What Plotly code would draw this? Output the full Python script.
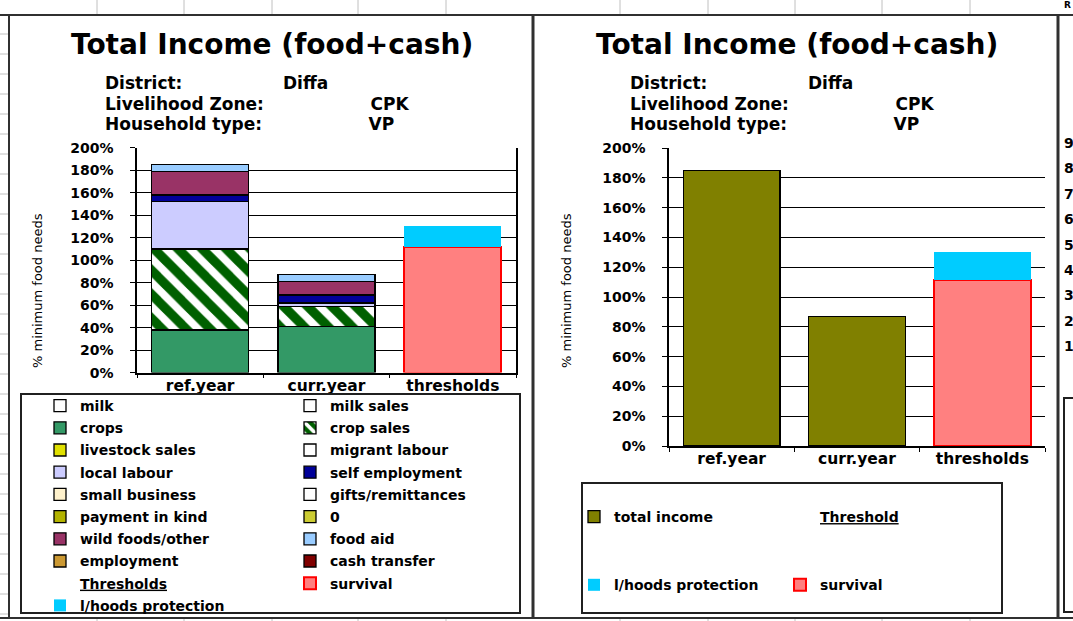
import plotly.graph_objects as go

# ---------------- data ----------------
categories = ["ref.year", "curr.year", "thresholds"]

milk = [0, 0, 0]
milk_sales = [0, 0, 0]
crops = [38, 41, 0]
crop_sales = [72, 18, 0]
livestock_sales = [0, 0, 0]
migrant_labour = [0, 0, 0]
local_labour = [42, 3, 0]
self_employment = [6, 7, 0]
small_business = [0, 0, 0]
gifts_remittances = [0, 0, 0]
payment_in_kind = [0, 0, 0]
zero_series = [0, 0, 0]
wild_foods_other = [21, 12, 0]
food_aid = [6, 6, 0]
employment = [0, 0, 0]
cash_transfer = [0, 0, 0]
survival = [0, 0, 111.5]
lhoods_protection = [0, 0, 19]

total_income = [185, 87, 0]

y_ticks = list(range(0, 201, 20))
y_tick_labels = [f"{v}%" for v in y_ticks]
third_chart_ticks = ["9", "8", "7", "6", "5", "4", "3", "2", "1"]

# ---------------- helpers ----------------
W, H = 1073, 621
def px(x):
    return x / W
def py(y):
    return 1 - y / H
def nz(v):
    return [a if a else None for a in v]

BOLD = "DejaVu Sans"
fig = go.Figure()

# (name, values, color, legend column, pattern)
left_series = [
    ("milk", milk, "#FFFFFF", "legend", None),
    ("milk sales", milk_sales, "#FFFFFF", "legend2", None),
    ("crops", crops, "#339966", "legend", None),
    ("crop sales", crop_sales, "#006000", "legend2", "\\"),
    ("livestock sales", livestock_sales, "#E0E000", "legend", None),
    ("migrant labour", migrant_labour, "#FFFFFF", "legend2", None),
    ("local labour", local_labour, "#CCCCFF", "legend", None),
    ("self employment", self_employment, "#000099", "legend2", None),
    ("small business", small_business, "#FFF2CC", "legend", None),
    ("gifts/remittances", gifts_remittances, "#FFFFFF", "legend2", None),
    ("payment in kind", payment_in_kind, "#B3B300", "legend", None),
    ("0", zero_series, "#CCCC33", "legend2", None),
    ("wild foods/other", wild_foods_other, "#993366", "legend", None),
    ("food aid", food_aid, "#99CCFF", "legend2", None),
    ("employment", employment, "#CC9933", "legend", None),
    ("cash transfer", cash_transfer, "#800000", "legend2", None),
]

for name, vals, col, leg, pat in left_series:
    marker = dict(color=col, line=dict(color="black", width=1.3))
    if pat:
        marker["pattern"] = dict(shape=pat, fillmode="overlay", fgcolor="#FFFFFF",
                                 fgopacity=1, size=17, solidity=0.45)
    fig.add_trace(go.Bar(x=categories, y=nz(vals), name=name, marker=marker,
                         legend=leg, legendgroup="L_" + name,
                         xaxis="x", yaxis="y"))

# header "Thresholds" in legend
fig.add_trace(go.Scatter(x=[None], y=[None], mode="markers", name="<u>Thresholds</u>",
                         marker=dict(color="rgba(0,0,0,0)", size=1),
                         legend="legend", legendgroup="L_hdr", xaxis="x", yaxis="y",
                         hoverinfo="skip"))
fig.add_trace(go.Bar(x=categories, y=nz(survival), name="survival",
                     marker=dict(color="#FF8080", line=dict(color="#FF0000", width=2)),
                     legend="legend2", legendgroup="L_surv", xaxis="x", yaxis="y"))
fig.add_trace(go.Bar(x=categories, y=nz(lhoods_protection), name="l/hoods protection",
                     marker=dict(color="#00CCFF", line=dict(width=0)),
                     legend="legend", legendgroup="L_lp", xaxis="x", yaxis="y"))

# right chart
fig.add_trace(go.Bar(x=categories, y=nz(total_income), name="total income",
                     marker=dict(color="#808000", line=dict(color="black", width=1.3)),
                     legend="legend3", legendgroup="R_tot", xaxis="x2", yaxis="y2"))
fig.add_trace(go.Scatter(x=[None], y=[None], mode="markers", name="<u>Threshold</u>",
                         marker=dict(color="rgba(0,0,0,0)", size=1),
                         legend="legend4", legendgroup="R_hdr", xaxis="x2", yaxis="y2",
                         hoverinfo="skip"))
fig.add_trace(go.Bar(x=categories, y=nz(survival), name="survival",
                     marker=dict(color="#FF8080", line=dict(color="#FF0000", width=2)),
                     legend="legend4", legendgroup="R_surv", xaxis="x2", yaxis="y2"))
fig.add_trace(go.Bar(x=categories, y=nz(lhoods_protection), name="l/hoods protection",
                     marker=dict(color="#00CCFF", line=dict(width=0)),
                     legend="legend3", legendgroup="R_lp", xaxis="x2", yaxis="y2"))

# ---------------- axes ----------------
tickfont = dict(family=BOLD, size=14, color="black", weight="bold")
catfont = dict(family=BOLD, size=15.5, color="black", weight="bold")

def xaxis_cfg(dom, anchor):
    return dict(domain=dom, anchor=anchor, type="category", categoryorder="array",
                categoryarray=categories, showline=True, linecolor="black", linewidth=1.5,
                ticks="outside", tickson="boundaries", ticklen=4, tickcolor="black",
                tickfont=catfont, ticklabelstandoff=-2,
                showgrid=False, fixedrange=True, automargin=False)

def yaxis_cfg(dom, anchor, mirror):
    return dict(domain=dom, anchor=anchor, range=[0, 200], tickmode="array",
                tickvals=y_ticks, ticktext=y_tick_labels,
                showgrid=True, gridcolor="black", gridwidth=1,
                showline=True, linecolor="black", linewidth=1.5, mirror=mirror,
                ticks="outside", ticklen=5, tickcolor="black", tickfont=tickfont,
                ticklabelstandoff=14, zeroline=False, fixedrange=True, automargin=False)

legfont = dict(family=BOLD, size=14, color="black", weight="bold")
def leg(xp, yp, gap):
    return dict(x=px(xp), y=py(yp), xanchor="left", yanchor="top",
                traceorder="grouped", tracegroupgap=gap, font=legfont,
                bgcolor="rgba(0,0,0,0)", borderwidth=0, itemclick=False,
                itemdoubleclick=False)

fig.update_layout(
    width=W, height=H,
    margin=dict(l=0, r=0, t=0, b=0, pad=0, autoexpand=False),
    paper_bgcolor="white", plot_bgcolor="white",
    barmode="stack", bargap=0.23,
    xaxis=xaxis_cfg([px(137), px(516)], "y"),
    yaxis=yaxis_cfg([py(372.6), py(147.6)], "x", True),
    xaxis2=xaxis_cfg([px(669), px(1045)], "y2"),
    yaxis2=yaxis_cfg([py(446), py(148)], "x2", False),
    legend=leg(40, 390, 1),
    legend2=leg(290, 390, 1),
    legend3=leg(574, 501, 47),
    legend4=leg(780, 501, 47),
    showlegend=True,
)

# ---------------- text ----------------
ann = []
def text(x, y, s, size, xanchor="left", bold=True, angle=0, family=BOLD, yanchor="middle"):
    ann.append(dict(x=px(x), y=py(y), xref="paper", yref="paper", text=s,
                    showarrow=False, xanchor=xanchor, yanchor=yanchor, textangle=angle,
                    align="left",
                    font=dict(family=family, size=size, color="black",
                              weight="bold" if bold else "normal")))

NB = "&nbsp;"
info_lines = [
    ("District:", 17, "Diffa"),
    ("Livelihood Zone:", 18, "CPK"),
    ("Household type:", 18, "VP"),
]
info_text = "<span style='font-size:17px'>" + "<br>".join(
    lab + NB * n + val for lab, n, val in info_lines) + "</span>"

for off in (0, 525):
    text(272 + off, 45, "Total Income (food+cash)", 28, xanchor="center")
    text(103 + off, 104, info_text, 15.9)

text(37, 291, "% minimum food needs", 13, xanchor="center", bold=False, angle=-90)
text(566, 291, "% minimum food needs", 13, xanchor="center", bold=False, angle=-90)

for i, t in enumerate(third_chart_ticks):
    text(1062, 143 + 25.4 * i, t, 14)
text(1062, 5, "R", 9)

fig.update_layout(annotations=ann)

# ---------------- frames / sheet lines ----------------
shapes = []
def line(x0, y0, x1, y1, color="#303030", width=2):
    shapes.append(dict(type="line", xref="paper", yref="paper",
                       x0=px(x0), y0=py(y0), x1=px(x1), y1=py(y1),
                       line=dict(color=color, width=width)))

for cx in [97, 184, 272, 358, 446, 620, 708, 795, 882, 970]:
    line(cx, 0, cx, 14, color="#C0C0C0", width=1)
    line(cx, 619, cx, 621, color="#C0C0C0", width=1)
for ry in range(34, 621, 20):
    line(0, ry, 8, ry, color="#C0C0C0", width=1)

line(0, 15, 1073, 15, width=2)
line(0, 618, 1073, 618, width=2)
line(9, 15, 9, 618, width=2)
line(533, 15, 533, 618, width=3)
line(1058, 15, 1058, 618, width=3)

shapes.append(dict(type="rect", xref="paper", yref="paper",
                   x0=px(21), y0=py(613), x1=px(520), y1=py(394),
                   line=dict(color="#202020", width=2), fillcolor="rgba(0,0,0,0)"))
shapes.append(dict(type="rect", xref="paper", yref="paper",
                   x0=px(582), y0=py(613), x1=px(1002), y1=py(483),
                   line=dict(color="#202020", width=2), fillcolor="rgba(0,0,0,0)"))
shapes.append(dict(type="rect", xref="paper", yref="paper",
                   x0=px(1064), y0=py(612), x1=px(1085), y1=py(398),
                   line=dict(color="#202020", width=2), fillcolor="rgba(0,0,0,0)"))
fig.update_layout(shapes=shapes)

fig.write_html("out.html", config={"displayModeBar": False},
               post_script="document.body.style.margin='0px';document.body.style.overflow='hidden';")
